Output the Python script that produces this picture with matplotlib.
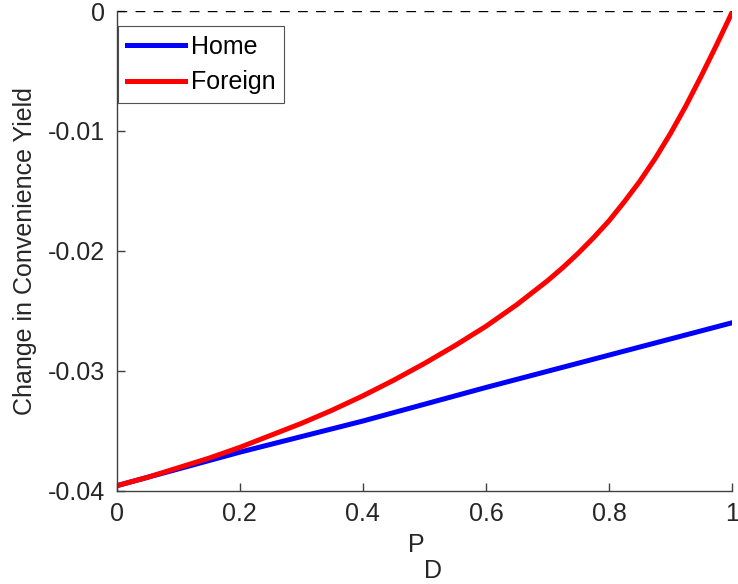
import matplotlib
matplotlib.use("Agg")
import matplotlib.pyplot as plt

plt.rcParams['font.family'] = ['Liberation Sans', 'DejaVu Sans']

# Data
pd_home = [0.0, 0.2, 0.4, 0.6, 0.8, 1.0]
home = [-0.0396, -0.0368, -0.0342, -0.0314, -0.0287, -0.0260]

pd_foreign = [0.0, 0.05, 0.1, 0.15, 0.2, 0.25, 0.3, 0.35, 0.4, 0.45, 0.5,
              0.55, 0.575, 0.6, 0.625, 0.65, 0.675, 0.7, 0.725, 0.75, 0.775,
              0.8, 0.825, 0.85, 0.875, 0.9, 0.925, 0.95, 0.975, 1.0]
foreign = [-0.0396, -0.0389, -0.0381, -0.0373, -0.0364, -0.0354, -0.0344,
           -0.0333, -0.0321, -0.0308, -0.0294, -0.0279, -0.0271, -0.0263,
           -0.0254, -0.0245, -0.0235, -0.0225, -0.0214, -0.0202, -0.0189,
           -0.0175, -0.0159, -0.0142, -0.0123, -0.0102, -0.0079, -0.0054,
           -0.0028, -0.0001]

xticks = [0, 0.2, 0.4, 0.6, 0.8, 1]
xticklabels = ['0', '0.2', '0.4', '0.6', '0.8', '1']
yticks = [-0.04, -0.03, -0.02, -0.01, 0]
yticklabels = ['-0.04', '-0.03', '-0.02', '-0.01', '0']

FS = 18
TXT = '#262626'

fig = plt.figure(figsize=(7.38, 5.84), dpi=100)
ax = fig.add_axes([0.158, 0.160, 0.834, 0.821])

ax.plot(pd_home, home, color='#0000ff', lw=3.6, label='Home')
ax.plot(pd_foreign, foreign, color='#ff0000', lw=3.6, label='Foreign')
ax.plot([0, 1], [0, 0], color='black', lw=1.0, ls=(0, (7, 6)))

ax.set_xlim(0, 1)
ax.set_ylim(-0.04, 0)
ax.set_xticks(xticks)
ax.set_xticklabels(xticklabels)
ax.set_yticks(yticks)
ax.set_yticklabels(yticklabels)

for s in ['top', 'right']:
    ax.spines[s].set_visible(False)
for s in ['left', 'bottom']:
    ax.spines[s].set_color('#404040')
    ax.spines[s].set_linewidth(1.0)

ax.tick_params(direction='in', length=6, width=1.0, colors='#404040',
               labelcolor=TXT, labelsize=FS, pad=8)

ax.set_ylabel('Change in Convenience Yield', fontsize=FS, color=TXT, labelpad=8)

# x label "P" with subscript "D" (MATLAB style)
fig.text(416 / 738, 1 - 545.5 / 584, 'P', fontsize=FS, color=TXT,
         ha='center', va='center')
fig.text(433 / 738, 1 - 570.5 / 584, 'D', fontsize=FS, color=TXT,
         ha='center', va='center')

leg = ax.legend(loc='upper left', bbox_to_anchor=(0.003, 0.968), fontsize=FS,
                frameon=True, fancybox=False, handlelength=2.3,
                borderpad=0.35, labelspacing=0.45, handletextpad=0.25,
                borderaxespad=0.0)
leg.get_frame().set_edgecolor(TXT)
leg.get_frame().set_linewidth(0.8)

fig.savefig('out.png', dpi=100)
